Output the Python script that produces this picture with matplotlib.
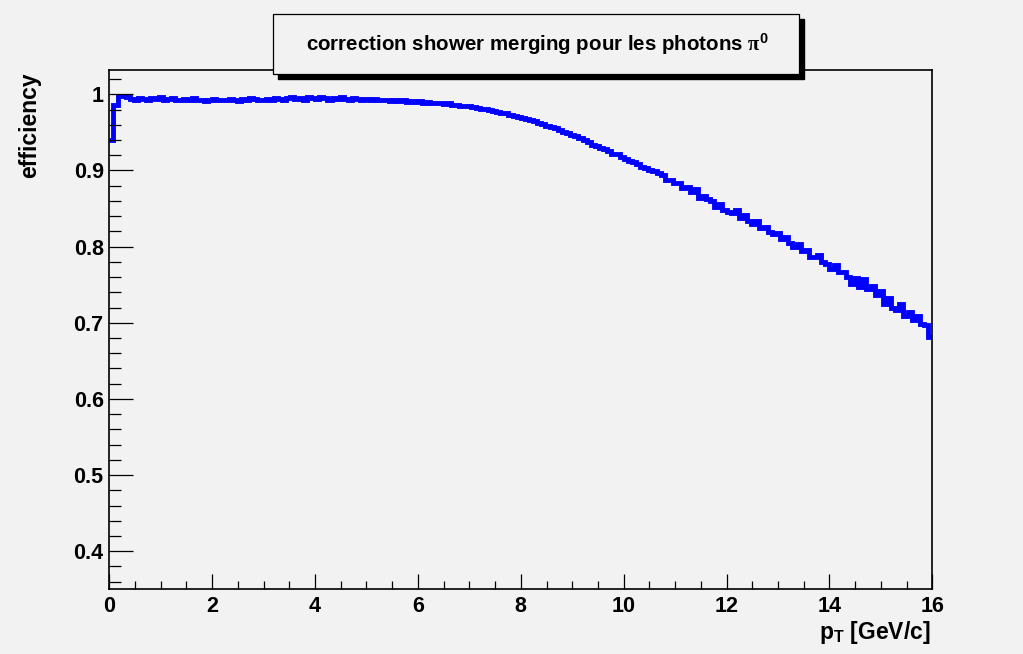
import numpy as np
import matplotlib
matplotlib.use("Agg")
import matplotlib.pyplot as plt
from matplotlib.patches import Rectangle
from matplotlib.ticker import MultipleLocator, FuncFormatter

plt.rcParams['font.family'] = ['Liberation Sans', 'DejaVu Sans']
plt.rcParams['font.weight'] = 'bold'
plt.rcParams['mathtext.fontset'] = 'custom'
plt.rcParams['mathtext.rm'] = 'Liberation Serif'
plt.rcParams['mathtext.it'] = 'Liberation Serif:italic'
plt.rcParams['mathtext.bf'] = 'Liberation Sans:bold'

# Histogram: 200 bins from 0 to 16 GeV/c
x_min, x_max, n_bins = 0.0, 16.0, 200
efficiency = [
    0.940, 0.986, 0.998, 0.998, 0.997, 0.994, 0.993, 0.995, 0.994, 0.993,
    0.995, 0.994, 0.996, 0.993, 0.994, 0.995, 0.993, 0.992, 0.994, 0.993,
    0.995, 0.992, 0.993, 0.991, 0.993, 0.994, 0.992, 0.993, 0.992, 0.994,
    0.993, 0.991, 0.994, 0.993, 0.995, 0.994, 0.993, 0.992, 0.994, 0.993,
    0.995, 0.994, 0.993, 0.995, 0.996, 0.994, 0.995, 0.993, 0.996, 0.995,
    0.994, 0.996, 0.995, 0.993, 0.995, 0.994, 0.996, 0.994, 0.993, 0.995,
    0.994, 0.992, 0.994, 0.993, 0.994, 0.992, 0.993, 0.992, 0.991, 0.992,
    0.991, 0.992, 0.990, 0.991, 0.990, 0.991, 0.989, 0.990, 0.989, 0.988,
    0.989, 0.987, 0.988, 0.986, 0.986, 0.985, 0.984, 0.984, 0.983, 0.982,
    0.981, 0.981, 0.979, 0.978, 0.977, 0.976, 0.975, 0.973, 0.972, 0.970,
    0.969, 0.968, 0.966, 0.965, 0.962, 0.961, 0.959, 0.957, 0.956, 0.953,
    0.951, 0.949, 0.946, 0.945, 0.942, 0.940, 0.937, 0.934, 0.932, 0.930,
    0.928, 0.926, 0.922, 0.922, 0.918, 0.915, 0.913, 0.911, 0.908, 0.905,
    0.903, 0.901, 0.899, 0.896, 0.894, 0.888, 0.887, 0.883, 0.884, 0.877,
    0.878, 0.872, 0.875, 0.864, 0.866, 0.862, 0.860, 0.852, 0.856, 0.848,
    0.846, 0.844, 0.848, 0.838, 0.842, 0.833, 0.830, 0.834, 0.825, 0.826,
    0.819, 0.816, 0.818, 0.810, 0.812, 0.805, 0.799, 0.803, 0.794, 0.795,
    0.787, 0.786, 0.789, 0.780, 0.777, 0.771, 0.776, 0.766, 0.767, 0.760,
    0.751, 0.759, 0.747, 0.757, 0.744, 0.748, 0.736, 0.742, 0.724, 0.732,
    0.719, 0.717, 0.724, 0.709, 0.714, 0.704, 0.709, 0.698, 0.697, 0.681,
]
y_min, y_max = 0.35, 1.0315
title = "correction shower merging pour les photons "
x_label = r"$\mathbf{p}_{\mathbf{T}}$ [GeV/c]"
y_label = "efficiency"

bg = "#f2f2f2"
W, H = 1023, 654
fig = plt.figure(figsize=(W / 100, H / 100), dpi=100, facecolor=bg)

def fx(px):
    return px / W

def fy(py):
    return 1 - py / H

ax = fig.add_axes([fx(109.3), fy(589.3), fx(932.3) - fx(109.3), fy(70.3) - fy(589.3)])
ax.set_facecolor(bg)

edges = np.linspace(x_min, x_max, n_bins + 1)
ax.stairs(efficiency, edges, baseline=None, color="#0000ff", linewidth=3.5)

ax.set_xlim(x_min, x_max)
ax.set_ylim(y_min, y_max)
ax.xaxis.set_major_locator(MultipleLocator(2))
ax.xaxis.set_minor_locator(MultipleLocator(0.5))
ax.yaxis.set_major_locator(MultipleLocator(0.1))
ax.yaxis.set_minor_locator(MultipleLocator(0.02))
fmt = FuncFormatter(lambda v, p: "%g" % round(v, 3))
ax.xaxis.set_major_formatter(fmt)
ax.yaxis.set_major_formatter(fmt)

for s in ax.spines.values():
    s.set_linewidth(1.2)
ax.tick_params(axis='y', which='major', direction='in', length=17.5, width=0.9,
               labelsize=15.5, pad=4)
ax.tick_params(axis='y', which='minor', direction='in', length=8.8, width=0.9)
ax.tick_params(axis='x', which='major', direction='in', length=11, width=0.9,
               labelsize=15.5, pad=5)
ax.tick_params(axis='x', which='minor', direction='in', length=5.6, width=0.9)
for lab in ax.get_xticklabels() + ax.get_yticklabels():
    lab.set_fontweight('bold')

# axis titles
fig.text(fx(931), fy(633), x_label, ha='right', va='center', fontsize=16.5,
         fontweight='bold')
fig.text(fx(30), fy(72), y_label, ha='center', va='top', rotation=90,
         fontsize=16.5, fontweight='bold')

# title box with shadow
bx0, bx1, by0, by1 = 273, 799, 13.5, 74
fig.patches.append(Rectangle((fx(bx0 + 5), fy(by1 + 5)), fx(bx1 - bx0), fy(by0) - fy(by1),
                             transform=fig.transFigure, facecolor='black',
                             edgecolor='black', zorder=5))
fig.patches.append(Rectangle((fx(bx0), fy(by1)), fx(bx1 - bx0), fy(by0) - fy(by1),
                             transform=fig.transFigure, facecolor=bg,
                             edgecolor='black', linewidth=0.9, zorder=6))
fig.text(fx(537), fy(44), title + r"$\mathrm{\pi}^{\mathbf{0}}$", ha='center', va='center',
         fontsize=14.8, fontweight='bold', zorder=7)

fig.savefig("out.png", dpi=100, facecolor=bg)
